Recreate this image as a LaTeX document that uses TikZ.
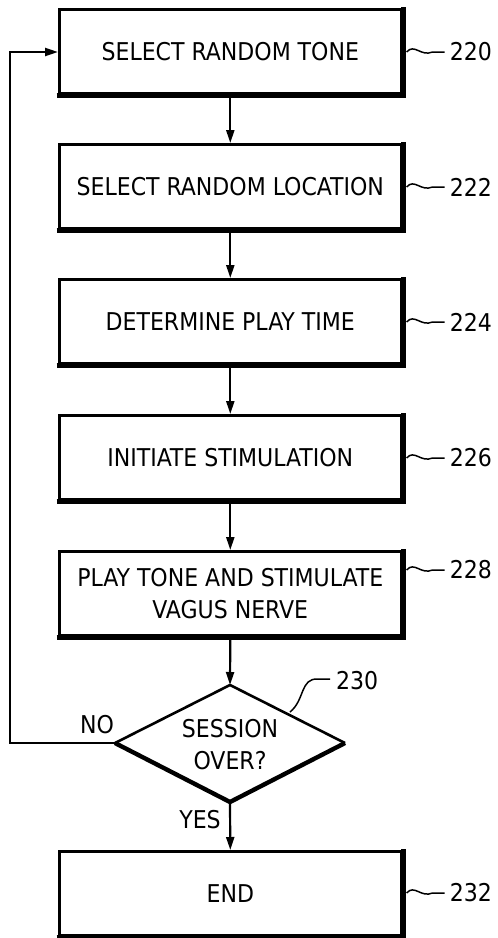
\documentclass[tikz,border=0pt]{standalone}
\usepackage{fontspec}
\setmainfont{DejaVu Sans Condensed}
\usetikzlibrary{shapes.geometric,arrows.meta,calc}
\begin{document}
\begin{tikzpicture}[x=1pt,y=-1pt,
  font=\fontsize{24.5}{32}\selectfont,
  stepbox/.style={draw,line width=2.6pt,minimum width=342pt,minimum height=84pt,inner sep=0pt,align=center,anchor=north west},
  shadowline/.style={line width=4.2pt},
  flow/.style={line width=2.2pt,-{Triangle[length=13pt,width=8pt]}},
  lead/.style={line width=1.5pt},
  refnum/.style={anchor=west,inner sep=0pt}]
\useasboundingbox (0,0) rectangle (498,938);
\node[stepbox] (b1) at (58,8) {SELECT RANDOM TONE};
\node[stepbox] (b2) at (58,143) {SELECT RANDOM LOCATION};
\node[stepbox] (b3) at (58,278) {DETERMINE PLAY TIME};
\node[stepbox] (b4) at (58,414) {INITIATE STIMULATION};
\node[stepbox] (b5) at (58,550) {PLAY TONE AND STIMULATE\\VAGUS NERVE};
\node[stepbox] (b6) at (58,850) {END};
\foreach \b in {b1,b2,b3,b4,b5,b6}{
  \draw[shadowline] ($(\b.south west)+(-1.3,0.9)$) -- ($(\b.south east)+(0.9,0.9)$) -- ($(\b.north east)+(0.9,-1.3)$);
}
% diamond
\coordinate (dt) at (230,685);
\coordinate (dl) at (115,743);
\coordinate (dr) at (345,743);
\coordinate (db) at (230,802);
\node[inner sep=0pt,align=center] (d) at (230,745) {SESSION\\OVER?};
\draw[line width=2.6pt,line join=round] (dl) -- (dt) -- (dr);
\draw[line width=4.4pt,line join=round] (dl) -- (db) -- (dr);
% connectors
\draw[flow] (b1.south) -- (b2.north);
\draw[flow] (b2.south) -- (b3.north);
\draw[flow] (b3.south) -- (b4.north);
\draw[flow] (b4.south) -- (b5.north);
\draw[flow] ($(b5.south)+(0,2)$) -- (dt);
\draw[flow] (db) -- (b6.north);
\coordinate (lp1) at (10,743);
\coordinate (lp2) at (10,52);
\draw[flow] (dl) -- (lp1) -- (lp2) -- (b1.west |- lp2);
\node[inner sep=0pt] (no) at (97,725) {NO};
\node[inner sep=0pt] (yes) at (200,820) {YES};
% reference numerals
\foreach \b/\n/\yy in {b1/220/52,b2/222/187,b3/224/322,b4/226/458,b5/228/570,b6/232/893}{
  \coordinate (s\n) at ($(\b.east |- 0,\yy)+(4,0)$);
  \draw[lead] (s\n) .. controls ($(s\n)+(8,-9)$) and ($(s\n)+(14,5)$) .. ($(s\n)+(26,0)$) -- ($(s\n)+(38,0)$);
  \node[refnum] (r\n) at ($(s\n)+(43,0)$) {\n};
}
\coordinate (s230) at (290,712);
\draw[lead] (s230) .. controls (305,700) and (300,678) .. (318,679) -- (330,679);
\node[refnum] (r230) at (336,681) {230};
\end{tikzpicture}
\end{document}
